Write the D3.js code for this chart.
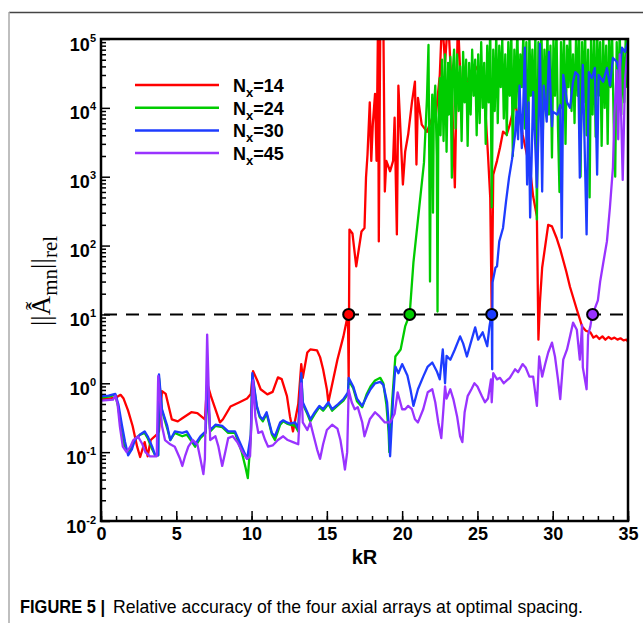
<!DOCTYPE html>
<html>
<head>
<meta charset="UTF-8" />
<style>
  body { margin: 0; background: #fff; }
  svg { display: block; font-family: "Liberation Sans", Arial, sans-serif; }
</style>
</head>
<body>
<svg></svg>
<script src="https://cdn.jsdelivr.net/npm/d3@7"></script>
<script>
// series values: [kR, ||A||rel]
let n14 = [[0,0.6],[0.5,0.6],[1.0,0.62],[1.3,0.68],[1.5,0.6],[1.8,0.4],[2.1,0.24],[2.4,0.12],[2.6,0.085],[2.9,0.14],[3.1,0.087],[3.3,0.15],[3.7,0.18],[3.85,0.2],[4.05,0.77],[4.3,0.7],[4.7,0.3],[5.1,0.28],[5.4,0.31],[6.0,0.38],[6.4,0.37],[6.9,0.3],[7.05,1.0],[7.3,0.65],[7.9,0.27],[8.1,0.3],[8.6,0.46],[9.2,0.53],[9.7,0.6],[9.95,0.7],[10.1,1.5],[10.4,1.07],[10.6,0.82],[11.05,0.69],[11.4,0.75],[11.75,1.22],[12.0,1.15],[12.35,0.65],[12.55,0.33],[12.75,0.2],[13.1,0.5],[13.3,1.9],[13.4,1.2],[13.7,2.8],[13.9,3.1],[14.35,3.0],[14.55,2.4],[14.75,1.6],[15.0,0.82],[15.1,0.53],[15.7,2.2],[16.1,4.8],[16.4,10],[16.45,1.1],[16.5,171],[16.7,150],[16.95,50],[17.3,160],[17.5,180],[17.6,970],[17.7,2100],[17.85,12000],[17.95,1700],[18.05,5700],[18.2,16000],[18.3,1700],[18.4,200000],[18.45,115],[18.55,200000],[18.65,200000],[18.75,200000],[18.85,610],[18.95,1700],[19.2,1200],[19.4,1700],[19.5,7200],[19.65,145],[19.75,21000],[19.85,7200],[20.05,770],[20.2,2300],[20.4,4100],[20.65,12000],[20.85,24000],[20.95,1500],[21.05,14000],[21.3,5700],[21.65,4500],[22.0,7200],[22.2,6300],[22.5,30000],[22.65,200000],[22.85,45000],[23.05,200000],[23.3,18000],[23.5,700],[23.7,200000],[23.9,20000],[24.1,18000],[24.3,24000],[24.8,42000],[25.15,32000],[25.5,12000],[25.7,2100],[25.85,500],[25.95,10],[26.05,1070],[26.3,1700],[26.5,2650],[26.7,4500],[26.95,4100],[27.15,5700],[27.5,12000],[27.65,8000],[27.85,6300],[28.0,4100],[28.5,1270],[28.7,520],[28.95,265],[29.05,4.3],[29.15,15],[29.3,48],[29.7,200],[29.95,190],[30.25,130],[30.5,88],[30.9,42],[31.15,25],[31.6,11.8],[31.95,6.7],[32.2,5.8],[32.5,5.5],[32.7,4.6],[32.9,4.9],[33.1,4.4],[33.3,4.8],[33.5,4.3],[33.7,4.7],[33.9,4.4],[34.1,4.6],[34.3,4.3],[34.5,4.5],[34.7,4.2],[34.9,4.3],[35,4.0]];

let n24 = [[0,0.62],[0.5,0.64],[0.95,0.68],[1.15,0.45],[1.35,0.2],[1.55,0.12],[1.8,0.1],[2.05,0.12],[2.3,0.16],[2.6,0.18],[2.9,0.19],[3.1,0.16],[3.4,0.11],[3.6,0.09],[3.8,0.09],[3.85,1.2],[4.05,0.4],[4.4,0.22],[4.6,0.15],[4.9,0.19],[5.4,0.17],[5.7,0.18],[6.05,0.14],[6.25,0.12],[6.6,0.16],[6.95,0.19],[7.05,0.9],[7.25,0.2],[7.6,0.24],[8.05,0.23],[8.45,0.19],[8.9,0.19],[9.35,0.1],[9.6,0.06],[9.75,0.042],[9.95,0.17],[10.05,1.3],[10.35,0.45],[10.55,0.32],[10.75,0.28],[11.0,0.36],[11.35,0.18],[11.55,0.15],[11.9,0.25],[12.1,0.28],[12.35,0.26],[12.55,0.25],[12.9,0.24],[13.1,0.2],[13.3,1.3],[13.4,0.5],[13.7,0.36],[13.9,0.28],[14.2,0.36],[14.5,0.45],[14.75,0.4],[15.1,0.5],[15.35,0.4],[15.75,0.48],[16.1,0.56],[16.4,0.7],[16.45,1.1],[16.75,0.85],[17.0,0.55],[17.35,0.45],[17.65,0.7],[17.9,0.9],[18.2,1.1],[18.55,1.2],[18.75,1.0],[18.95,0.5],[19.1,0.2],[19.15,0.1],[19.35,0.6],[19.55,2.45],[19.9,3.1],[20.2,6.7],[20.5,10],[20.75,57],[21.1,300],[21.45,1600],[21.65,14000],[21.75,82000],[21.8,2000],[21.85,30],[21.9,2500],[22.0,15600],[22.05,300],[22.1,8000],[22.2,21000],[22.3,2000],[22.35,11],[22.4,5000],[22.5,27000],[22.55,4000],[22.65,50000],[22.75,3300],[22.85,60000],[22.95,2300],[23.05,45000],[23.1,8000],[23.2,55000],[23.3,970],[23.35,30000],[23.45,70000],[23.55,5000],[23.65,60000],[23.75,9000],[23.85,40000],[23.95,3300],[24.05,65000],[24.15,12000],[24.25,50000],[24.35,2800],[24.45,45000],[24.55,8000],[24.65,70000],[24.75,15000],[24.85,50000],[24.95,4000],[25.05,60000],[25.15,6000],[25.25,90000],[25.35,10000],[25.45,45000],[25.55,3000],[25.65,80000],[25.75,12000],[25.85,150000],[25.95,360],[26.05,70000],[26.15,9000],[26.25,120000],[26.35,6000],[26.45,80000],[26.55,20000],[26.65,100000],[26.75,7000],[26.85,60000],[26.95,4000],[27.05,90000],[27.15,15000],[27.25,130000],[27.35,2000],[27.45,70000],[27.55,10000],[27.65,150000],[27.75,8000],[27.85,60000],[27.95,20000],[28.05,120000],[28.15,5000],[28.25,90000],[28.35,1300],[28.45,110000],[28.55,15000],[28.65,70000],[28.75,6000],[28.85,130000],[28.95,240],[29.05,90000],[29.15,9000],[29.25,150000],[29.35,4800],[29.45,70000],[29.55,12000],[29.65,120000],[29.75,8000],[29.85,80000],[29.95,1900],[30.05,100000],[30.15,15000],[30.25,140000],[30.35,5000],[30.45,600],[30.55,90000],[30.65,10000],[30.75,120000],[30.85,3000],[30.95,80000],[31.05,20000],[31.15,150000],[31.25,9000],[31.35,60000],[31.45,6000],[31.55,110000],[31.65,15000],[31.75,130000],[31.85,1000],[31.95,90000],[32.05,12000],[32.15,140000],[32.25,4000],[32.35,70000],[32.45,500],[32.55,120000],[32.65,8000],[32.75,100000],[32.85,3800],[32.95,150000],[33.05,15000],[33.15,90000],[33.25,2800],[33.35,120000],[33.45,10000],[33.55,80000],[33.65,3000],[33.75,140000],[33.85,20000],[33.95,100000],[34.05,6000],[34.15,1000],[34.25,90000],[34.35,12000],[34.45,130000],[34.55,8000],[34.65,70000],[34.75,12000],[34.85,110000],[34.95,20000],[35,60000]];

let n30 = [[0,0.65],[0.5,0.66],[0.95,0.7],[1.15,0.5],[1.4,0.24],[1.6,0.14],[1.8,0.09],[2.05,0.11],[2.25,0.15],[2.6,0.18],[2.9,0.2],[3.1,0.17],[3.4,0.12],[3.6,0.09],[3.8,0.09],[3.85,1.35],[4.05,0.42],[4.4,0.24],[4.6,0.15],[4.9,0.2],[5.4,0.19],[5.7,0.2],[6.05,0.15],[6.25,0.13],[6.6,0.17],[6.95,0.2],[7.05,1.0],[7.25,0.21],[7.6,0.25],[8.05,0.24],[8.45,0.2],[8.9,0.2],[9.35,0.12],[9.7,0.08],[9.95,0.18],[10.05,1.4],[10.35,0.47],[10.55,0.33],[10.75,0.3],[11.0,0.38],[11.35,0.19],[11.55,0.17],[11.9,0.27],[12.1,0.29],[12.35,0.27],[12.55,0.26],[12.9,0.27],[13.1,0.22],[13.3,1.4],[13.4,0.53],[13.7,0.38],[13.9,0.3],[14.2,0.38],[14.5,0.47],[14.75,0.42],[15.1,0.53],[15.35,0.42],[15.75,0.5],[16.1,0.59],[16.4,0.74],[16.45,1.2],[16.75,0.9],[17.0,0.6],[17.35,0.47],[17.65,0.65],[17.9,0.82],[18.2,1.0],[18.55,1.05],[18.75,0.95],[19.0,0.53],[19.1,0.27],[19.2,0.087],[19.4,0.6],[19.55,1.75],[19.75,1.4],[20.0,1.9],[20.35,1.3],[20.55,0.82],[20.75,0.47],[21.05,0.82],[21.4,1.25],[21.7,1.75],[22.0,2.0],[22.3,1.5],[22.5,1.14],[22.7,3.1],[22.85,1.0],[22.95,2.5],[23.2,2.2],[23.5,3.1],[23.85,4.8],[24.05,3.8],[24.3,2.45],[24.5,3.5],[24.85,6.5],[25.05,4.3],[25.35,5.5],[25.65,3.45],[25.8,6.7],[25.95,10.7],[25.98,1.6],[26.0,29],[26.2,48],[26.3,50],[26.45,115],[26.7,180],[26.9,440],[27.1,970],[27.3,1800],[27.5,4100],[27.6,8800],[27.7,3500],[27.8,21000],[27.95,2600],[28.05,12000],[28.15,75000],[28.3,770],[28.4,12000],[28.5,255],[28.6,1800],[28.7,17000],[28.95,700],[29.05,4100],[29.15,85000],[29.3,610],[29.4,21000],[29.6,6300],[29.75,65000],[29.95,5400],[30.0,8800],[30.3,8000],[30.5,11000],[30.6,130],[30.7,30000],[30.95,12000],[31.15,10000],[31.35,24000],[31.5,33000],[31.7,30000],[31.8,970],[32.0,42000],[32.25,145],[32.4,33000],[32.6,27000],[32.8,38000],[32.95,1070],[33.05,30000],[33.35,24000],[33.6,38000],[33.8,21000],[34.0,53000],[34.25,47000],[34.45,33000],[34.6,75000],[34.8,65000],[35,90000]];

let n45 = [[0,0.56],[0.8,0.58],[0.95,0.66],[1.1,0.5],[1.25,0.24],[1.45,0.12],[1.7,0.1],[1.95,0.12],[2.15,0.15],[2.45,0.17],[2.75,0.13],[2.95,0.1],[3.25,0.087],[3.7,0.087],[3.8,1.27],[4.05,0.24],[4.25,0.15],[4.6,0.13],[4.9,0.12],[5.25,0.08],[5.4,0.063],[5.6,0.09],[5.8,0.12],[6.1,0.15],[6.4,0.13],[6.6,0.08],[6.8,0.048],[6.9,0.08],[7.05,5.1],[7.25,0.15],[7.6,0.17],[7.8,0.12],[8.05,0.063],[8.25,0.1],[8.45,0.16],[8.75,0.17],[9.05,0.14],[9.4,0.1],[9.7,0.08],[9.9,0.087],[10.1,1.1],[10.25,0.33],[10.45,0.19],[10.7,0.2],[10.9,0.15],[11.1,0.12],[11.4,0.125],[11.75,0.15],[12.1,0.17],[12.4,0.15],[12.75,0.14],[13.1,0.13],[13.3,1.0],[13.4,0.27],[13.7,0.21],[13.9,0.27],[14.1,0.18],[14.35,0.11],[14.55,0.08],[14.75,0.13],[15.0,0.21],[15.35,0.25],[15.7,0.22],[15.9,0.15],[16.1,0.08],[16.2,0.056],[16.35,0.1],[16.45,0.8],[16.65,0.53],[16.85,0.42],[17.05,0.45],[17.35,0.27],[17.5,0.17],[17.85,0.3],[18.2,0.38],[18.5,0.33],[18.85,0.27],[19.2,0.27],[19.5,0.36],[19.7,0.74],[20.0,0.42],[20.2,0.42],[20.4,0.47],[20.65,0.42],[20.85,0.3],[21.05,0.27],[21.4,0.42],[21.7,0.74],[22.0,0.82],[22.2,0.53],[22.4,0.27],[22.6,0.16],[22.75,0.45],[22.85,0.9],[22.95,0.6],[23.2,0.82],[23.4,0.59],[23.65,0.33],[23.85,0.17],[24.0,0.14],[24.15,0.38],[24.35,0.65],[24.6,0.82],[24.8,1.0],[25.0,0.9],[25.3,0.65],[25.5,0.53],[25.7,0.6],[25.9,1.14],[25.95,0.53],[26.05,1.4],[26.3,1.14],[26.5,1.2],[26.75,1.0],[26.95,1.1],[27.15,1.2],[27.5,1.6],[27.7,1.45],[28.0,1.9],[28.2,1.7],[28.45,1.25],[28.7,1.25],[28.95,0.47],[29.1,2.45],[29.3,1.25],[29.5,1.9],[29.7,2.8],[29.95,3.9],[30.15,2.45],[30.35,1.14],[30.5,0.59],[30.7,2.2],[30.95,3.1],[31.15,4.8],[31.35,7.6],[31.6,6.0],[31.8,2.2],[31.95,7],[32.0,1.7],[32.25,0.82],[32.35,5],[32.5,6.7],[32.6,9.4],[32.7,10.7],[33.0,16],[33.15,30],[33.35,55],[33.6,115],[33.8,360],[34.0,1370],[34.1,8000],[34.25,35000],[34.35,3500],[34.45,60000],[34.65,900],[34.8,25000],[34.95,60000],[35,50000]];

let seriesNames = ["14", "24", "30", "45"];
let seriesColors = ["#ff0000", "#00cc00", "#1e3cff", "#9933ff"];
let crossKR = [16.45, 20.5, 25.95, 32.65];
let threshold = 10;
let xTicks = [0, 5, 10, 15, 20, 25, 30, 35];
let yTicks = [1e-2, 1e-1, 1e0, 1e1, 1e2, 1e3, 1e4, 1e5];
let caption = ["FIGURE 5 |", "Relative accuracy of the four axial arrays at optimal spacing."];

let width = 643,
    height = 623;

let sans = "'Liberation Sans', Arial, sans-serif";
let serif = "'Liberation Serif', 'Times New Roman', serif";
let narrow = "'Liberation Sans Narrow', 'Liberation Sans', Arial, sans-serif";

let svg = d3.select("svg").attr("width", width).attr("height", height);

let x = d3.scaleLinear().domain([0, 35]).range([101, 628]);
let y = d3.scaleLog().domain([1e-2, 1e5]).range([521, 39]);

// figure frame lines
svg.append("line").attr("x1", 9).attr("x2", width).attr("y1", 12.5).attr("y2", 12.5)
    .attr("stroke", "#444").attr("stroke-width", 1.5);
svg.append("line").attr("x1", 9).attr("x2", 9).attr("y1", 12).attr("y2", height)
    .attr("stroke", "#aaa").attr("stroke-width", 1.5);

svg.append("clipPath").attr("id", "plotclip")
    .append("rect").attr("x", 101).attr("y", 39).attr("width", 527).attr("height", 482);

// minor ticks
let minorY = [];
for (let e = -2; e < 5; e++) {
    for (let m = 2; m <= 9; m++) minorY.push(m * Math.pow(10, e));
}
let yMinor = svg.append("g").attr("transform", "translate(101,0)")
    .call(d3.axisLeft(y).tickValues(minorY).tickSize(-5).tickFormat(""));
let xMinor = svg.append("g").attr("transform", "translate(0,521)")
    .call(d3.axisBottom(x).tickValues(d3.range(0, 36, 1)).tickSize(-5).tickFormat(""));

let yAxis = svg.append("g").attr("transform", "translate(101,0)")
    .call(d3.axisLeft(y).tickValues(yTicks).tickSize(-9).tickPadding(5));
let xAxis = svg.append("g").attr("transform", "translate(0,521)")
    .call(d3.axisBottom(x).tickValues(xTicks).tickSize(-10).tickPadding(6).tickFormat(d3.format("d")));

[yMinor, xMinor, yAxis, xAxis].forEach(g => {
    g.select(".domain").remove();
    g.selectAll(".tick line").attr("stroke", "#000").attr("stroke-width", 1.5);
});

xAxis.selectAll(".tick text")
    .attr("fill", "#000")
    .style("font-family", sans).style("font-size", "18px").style("font-weight", "bold");

yAxis.selectAll(".tick text").each(function (d) {
    let t = d3.select(this);
    t.text(null).attr("dy", 11).attr("fill", "#000")
        .style("font-family", sans).style("font-weight", "bold");
    t.append("tspan").style("font-size", "18px").text("10");
    t.append("tspan").style("font-size", "11px").attr("dy", -9).text(Math.round(Math.log10(d)));
});

// threshold dashed line
svg.append("line")
    .attr("x1", x(0) + 3).attr("x2", x(35)).attr("y1", y(threshold)).attr("y2", y(threshold))
    .attr("stroke", "#000").attr("stroke-width", 2).attr("stroke-dasharray", "13,9");

let line = d3.line().x(d => x(d[0])).y(d => y(d[1]));

let allSeries = [n14, n24, n30, n45];
svg.append("g").attr("clip-path", "url(#plotclip)")
    .selectAll("path")
    .data(allSeries)
    .enter()
    .append("path")
    .attr("d", line)
    .attr("fill", "none")
    .attr("stroke", (d, i) => seriesColors[i])
    .attr("stroke-width", 2.3)
    .attr("stroke-linejoin", "round");

svg.append("g").selectAll("circle")
    .data(crossKR)
    .enter()
    .append("circle")
    .attr("cx", d => x(d))
    .attr("cy", y(threshold))
    .attr("r", 5.5)
    .attr("fill", (d, i) => seriesColors[i])
    .attr("stroke", "#000")
    .attr("stroke-width", 2);

// plot frame
svg.append("rect").attr("x", 101).attr("y", 39).attr("width", 527).attr("height", 482)
    .attr("fill", "none").attr("stroke", "#000").attr("stroke-width", 2.5);

// legend
let legend = svg.append("g").selectAll("g")
    .data(seriesNames)
    .enter()
    .append("g")
    .attr("transform", (d, i) => "translate(0," + (85 + i * 22.7) + ")");
legend.append("line").attr("x1", 135).attr("x2", 219)
    .attr("stroke", (d, i) => seriesColors[i]).attr("stroke-width", 2.5);
let lt = legend.append("text").attr("x", 233).attr("y", 7)
    .style("font-family", sans).style("font-size", "18px").style("font-weight", "bold");
lt.append("tspan").text("N");
lt.append("tspan").style("font-size", "13px").attr("dy", 5).text("x");
lt.append("tspan").attr("dy", -5).text(d => "=" + d);

// axis titles
svg.append("text").attr("x", x(17.5)).attr("y", 564)
    .attr("text-anchor", "middle")
    .style("font-family", sans).style("font-size", "20px").style("font-weight", "bold")
    .text("kR");

let yt = svg.append("text")
    .attr("transform", "translate(50,281) rotate(-90)")
    .attr("text-anchor", "middle")
    .style("font-family", serif).style("font-size", "27px");
yt.append("tspan").text("||A\u0302\u0303");
yt.append("tspan").style("font-size", "21px").attr("dy", 7).text("mn");
yt.append("tspan").attr("dy", -7).text("||");
yt.append("tspan").style("font-size", "21px").attr("dy", 7).text("rel");

// caption
svg.append("text").attr("x", 20).attr("y", 613)
    .style("font-family", narrow).style("font-size", "19px").style("font-weight", "bold")
    .attr("textLength", 85).attr("lengthAdjust", "spacingAndGlyphs")
    .text(caption[0]);
svg.append("text").attr("x", 113).attr("y", 613)
    .style("font-family", narrow).style("font-size", "19px")
    .attr("textLength", 470).attr("lengthAdjust", "spacingAndGlyphs")
    .text(caption[1]);
</script>
</body>
</html>
